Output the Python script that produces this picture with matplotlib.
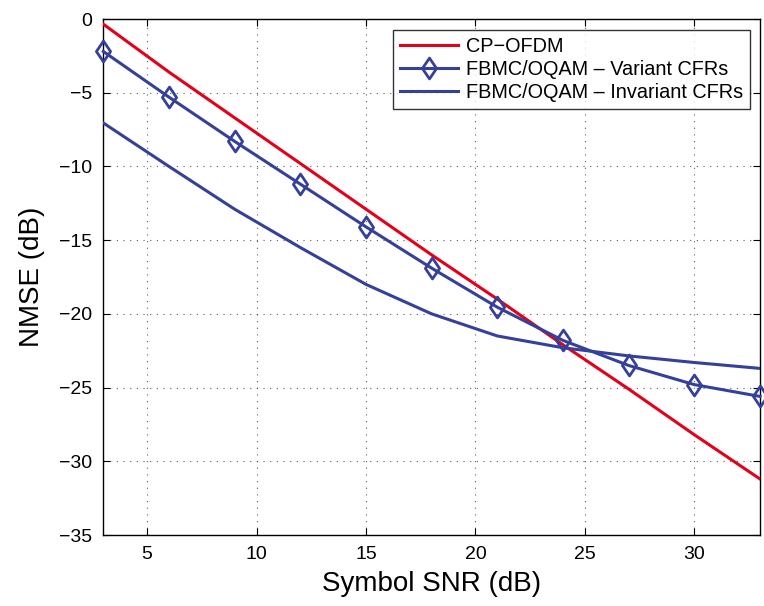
import matplotlib
matplotlib.use("Agg")
import matplotlib.pyplot as plt
from matplotlib.path import Path

snr = [3, 6, 9, 12, 15, 18, 21, 24, 27, 30, 33]
cp_ofdm = [-0.35, -3.6, -6.7, -9.8, -12.9, -16.0, -19.0, -22.1, -25.1, -28.2, -31.2]
fbmc_variant = [-2.2, -5.3, -8.3, -11.2, -14.1, -16.9, -19.55, -21.8, -23.5, -24.8, -25.6]
fbmc_invariant = [-7.05, -10.0, -12.9, -15.5, -18.0, -20.0, -21.5, -22.3, -22.85, -23.3, -23.7]

xticks = [5, 10, 15, 20, 25, 30]
yticks = [0, -5, -10, -15, -20, -25, -30, -35]

plt.rcParams['font.family'] = ['Liberation Sans', 'DejaVu Sans']

fig = plt.figure(figsize=(7.64, 6.06), dpi=100)
ax = fig.add_axes([103.3/764, 1-535/606, (760-103.3)/764, (535-19)/606])

diamond = Path([(0, 1), (0.68, 0), (0, -1), (-0.68, 0), (0, 1)],
               [Path.MOVETO, Path.LINETO, Path.LINETO, Path.LINETO, Path.CLOSEPOLY])

red = '#e3001b'
blue = '#35409a'
ax.plot(snr, cp_ofdm, color=red, lw=2.2, label='CP\u2212OFDM', zorder=3)
ax.plot(snr, fbmc_variant, color=blue, lw=2.2, marker=diamond, markersize=15,
        markerfacecolor='none', markeredgewidth=2.0, label='FBMC/OQAM \u2013 Variant CFRs', zorder=4, clip_on=False)
ax.plot(snr, fbmc_invariant, color=blue, lw=2.2, label='FBMC/OQAM \u2013 Invariant CFRs', zorder=3)

ax.set_xlim(3, 33)
ax.set_ylim(-35, 0)
ax.set_xticks(xticks)
ax.set_yticks(yticks)
ax.set_yticklabels([str(v).replace('-', '\u2212') for v in yticks])
ax.tick_params(direction='in', length=5, labelsize=14, top=True, right=True, pad=8)
ax.grid(True, color='#333333', linestyle=(0, (1, 5)), linewidth=0.8, alpha=0.8)
for s in ax.spines.values():
    s.set_linewidth(1.0)

ax.set_xlabel('Symbol SNR (dB)', fontsize=20, labelpad=6)
ax.set_ylabel('NMSE (dB)', fontsize=20, labelpad=10)

leg = ax.legend(loc='upper right', bbox_to_anchor=(750/764, 1-30/606), bbox_transform=fig.transFigure,
                fontsize=14.3, frameon=True, fancybox=False, edgecolor='black',
                handlelength=2.9, borderpad=0.35, labelspacing=0.2, handletextpad=0.4, borderaxespad=0)
leg.get_frame().set_linewidth(1.0)

fig.savefig('out.png', dpi=100)
